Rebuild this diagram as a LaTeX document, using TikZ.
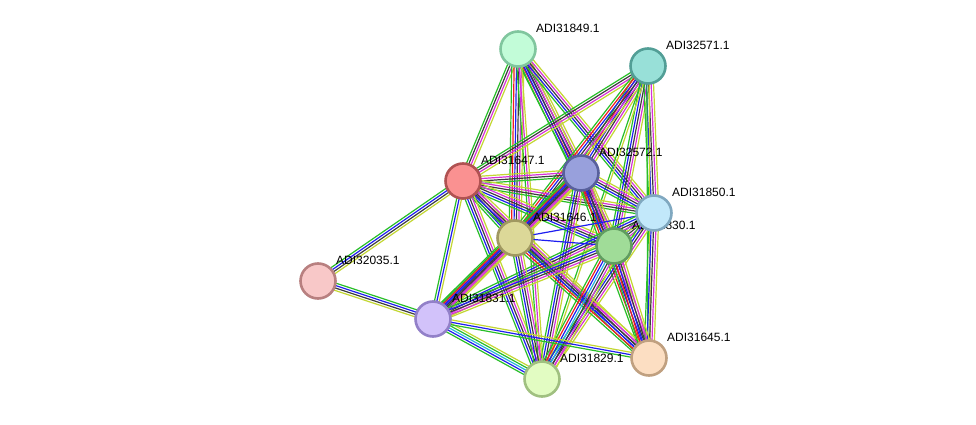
\documentclass[tikz,border=0pt]{standalone}
\usepackage{fontspec}
\setmainfont{Liberation Sans}
\usetikzlibrary{calc,backgrounds}
\definecolor{eg}{RGB}{40,190,40}
\definecolor{er}{RGB}{240,30,30}
\definecolor{eb}{RGB}{30,30,240}
\definecolor{ek}{RGB}{60,60,60}
\definecolor{em}{RGB}{215,50,215}
\definecolor{ey}{RGB}{195,215,50}
\definecolor{ec}{RGB}{40,180,220}
\tikzset{
  x=1pt,y=-1pt,
  prot/.style={circle,minimum size=35pt,inner sep=0pt,line width=2.6pt},
  lab/.style={anchor=west,inner sep=0pt,font=\fontsize{12}{14}\selectfont},
  edgeline/.style={line width=1.2pt}
}
\newcommand\secount{0}
\newcommand\se[3]{%
  \xdef\secount{0}%
  \foreach \c in {#3}{\xdef\secount{\the\numexpr\secount+1\relax}}%
  \foreach \c [count=\i] in {#3}{%
    \pgfmathsetmacro\off{(\i-(\secount+1)/2)*2.4}%
    \draw[edgeline,\c] ($(#1.center)!\off pt!90:(#2.center)$) -- ($(#2.center)!\off pt!-90:(#1.center)$);
  }}
\begin{document}
\begin{tikzpicture}
\useasboundingbox (0,0) rectangle (976,425);
% labels
\node[lab] (l49) at (536,28) {ADI31849.1};
\node[lab] (l71) at (666,45) {ADI32571.1};
\node[lab] (l47) at (481,160) {ADI31647.1};
\node[lab] (l72) at (599,152) {ADI32572.1};
\node[lab] (l46) at (533,217) {ADI31646.1};
\node[lab] (l30) at (632,225) {ADI31830.1};
\node[lab] (l50) at (672,192) {ADI31850.1};
\node[lab] (l35) at (336,260) {ADI32035.1};
\node[lab] (l31) at (452,298) {ADI31831.1};
\node[lab] (l29) at (560,358) {ADI31829.1};
\node[lab] (l45) at (667,337) {ADI31645.1};
% proteins
\node[prot,fill={rgb,255:red,194;green,252;blue,216},draw={rgb,255:red,128;green,198;blue,158}] (n49) at (518,49) {};
\node[prot,fill={rgb,255:red,152;green,224;blue,216},draw={rgb,255:red,82;green,158;blue,150}] (n71) at (648,66) {};
\node[prot,fill={rgb,255:red,250;green,145;blue,145},draw={rgb,255:red,176;green,82;blue,82}] (n47) at (463,181) {};
\node[prot,fill={rgb,255:red,152;green,160;blue,220},draw={rgb,255:red,88;green,96;blue,156}] (n72) at (581,173) {};
\node[prot,fill={rgb,255:red,220;green,216;blue,152},draw={rgb,255:red,160;green,152;blue,96}] (n46) at (515,238) {};
\node[prot,fill={rgb,255:red,160;green,220;blue,152},draw={rgb,255:red,96;green,156;blue,96}] (n30) at (614,246) {};
\node[prot,fill={rgb,255:red,194;green,232;blue,250},draw={rgb,255:red,128;green,168;blue,192}] (n50) at (654,213) {};
\node[prot,fill={rgb,255:red,248;green,200;blue,200},draw={rgb,255:red,184;green,128;blue,128}] (n35) at (318,281) {};
\node[prot,fill={rgb,255:red,210;green,194;blue,250},draw={rgb,255:red,146;green,128;blue,200}] (n31) at (433,319) {};
\node[prot,fill={rgb,255:red,226;green,252;blue,194},draw={rgb,255:red,160;green,192;blue,128}] (n29) at (542,379) {};
\node[prot,fill={rgb,255:red,252;green,222;blue,194},draw={rgb,255:red,192;green,160;blue,128}] (n45) at (649,358) {};
\begin{pgfonlayer}{background}
\fill[white] (0,0) rectangle (976,425);
\se{n49}{n47}{eg,ek,em,ey}
\se{n49}{n46}{eg,er,eb,ek,em,ey}
\se{n49}{n72}{eg,er,eb,ek,em,ey}
\se{n49}{n30}{eg,eb,ek,em,ey}
\se{n49}{n50}{eg,eb,ek,em,ey}
\se{n49}{n29}{eg,em,ey}
\se{n71}{n47}{eg,ek,em,ey}
\se{n71}{n72}{eg,er,eb,ek,em,ey}
\se{n71}{n46}{eg,er,eb,ek,em,ey}
\se{n71}{n30}{eg,eb,ek,em,ey}
\se{n71}{n50}{eg,eb,ek,em,ey}
\se{n71}{n45}{eg,ey}
\se{n71}{n29}{eg,ey}
\se{n47}{n35}{eg,eb,ek,ey}
\se{n47}{n31}{eg,eb,ey}
\se{n47}{n72}{eg,ek,em,ey}
\se{n47}{n50}{eg,ek,em,ey}
\se{n47}{n46}{eg,eb,ek,em,ey}
\se{n47}{n30}{eg,eb,ek,em,ey}
\se{n47}{n45}{eg,eb,ek,em,ey}
\se{n47}{n29}{eg,eb,ek,em,ey}
\se{n72}{n46}{eg,er,eb,ek,em,ey}
\se{n72}{n30}{eg,er,eb,ek,em,ey}
\se{n72}{n50}{eg,eb,ek,em,ey}
\se{n72}{n31}{eg,eb,ek,em,ey}
\se{n72}{n29}{eg,eb,ek,em,ey}
\se{n72}{n45}{eg,er,eb,ek,em,ey}
\se{n50}{n46}{eb}
\se{n50}{n30}{eg,eb,ek,em,ey}
\se{n50}{n31}{eg,eb,ek,em,ey}
\se{n50}{n29}{eg,eb,ek,em,ey}
\se{n50}{n45}{eg,eb,ek,em,ey}
\se{n46}{n30}{eb}
\se{n46}{n31}{eg,er,eb,ek,em,ey}
\se{n46}{n29}{eg,eb,ek,em,ey}
\se{n46}{n45}{eg,er,eb,ek,em,ey}
\se{n30}{n31}{eg,eb,ek,em,ey}
\se{n30}{n29}{eg,er,eb,ec,ek,em,ey}
\se{n30}{n45}{eg,er,eb,ek,em,ey}
\se{n31}{n35}{eg,eb,ek,ey}
\se{n31}{n29}{eg,eb,ec,eg,ey}
\se{n31}{n45}{eg,eb,ey}
\end{pgfonlayer}
\end{tikzpicture}
\end{document}
